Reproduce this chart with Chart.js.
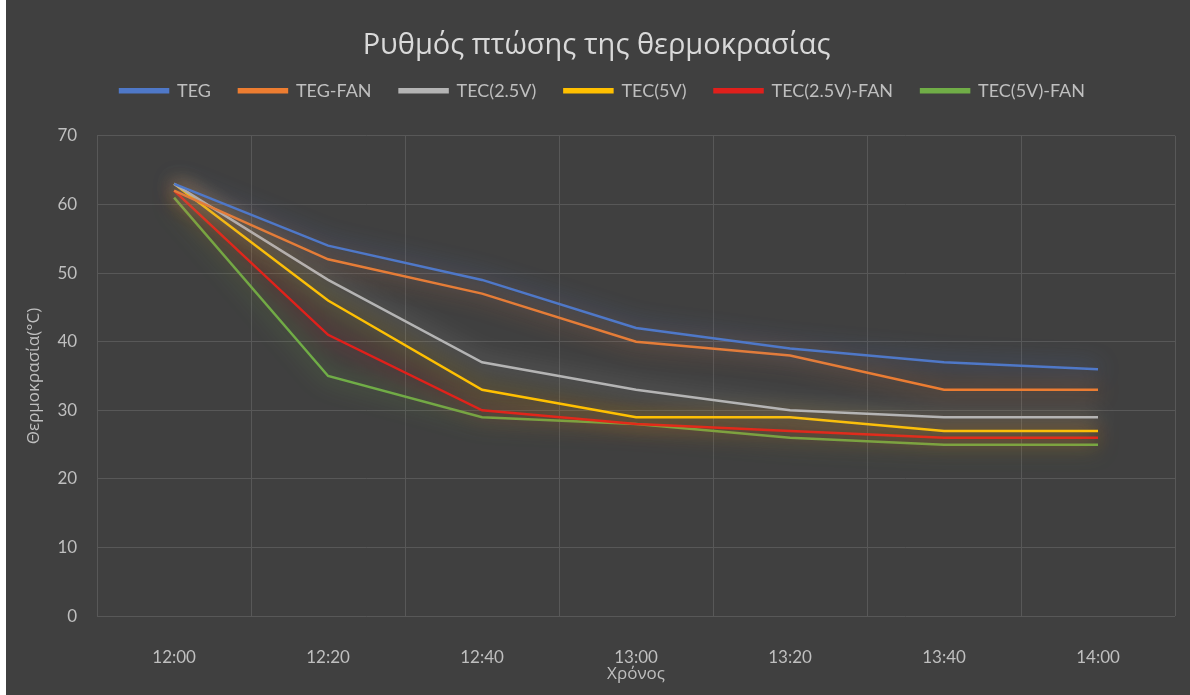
<!DOCTYPE html>
<html>
<head>
<meta charset="utf-8">
<script src="https://cdn.jsdelivr.net/npm/chart.js@4/dist/chart.umd.min.js"></script>
<style>
  html, body { margin: 0; padding: 0; background: #ffffff; }
  #wrap { position: absolute; left: 6px; top: 0; width: 1184px; height: 695px; background: #404040; }
</style>
</head>
<body>
<div id="wrap"><canvas id="temp"></canvas></div>
<script>
const times = ["12:00", "12:20", "12:40", "13:00", "13:20", "13:40", "14:00"];
const teg = [63, 54, 49, 42, 39, 37, 36];
const tegFan = [62, 52, 47, 40, 38, 33, 33];
const tec25 = [63, 49, 37, 33, 30, 29, 29];
const tec5 = [63, 46, 33, 29, 29, 27, 27];
const tec25Fan = [62, 41, 30, 28, 27, 26, 26];
const tec5Fan = [61, 35, 29, 28, 26, 25, 25];

const txt = "#bfbfbf";
const font = "Lato, 'Open Sans', sans-serif";

// soft glow behind every line
const glow = {
    id: "glow",
    beforeDatasetDraw(chart, args) {
        const ctx = chart.ctx;
        ctx.save();
        ctx.shadowColor = args.meta.dataset.options.borderColor;
        ctx.shadowBlur = 22;
    },
    afterDatasetDraw(chart) {
        chart.ctx.restore();
    }
};

// extra space between legend and plot, legend nudged a bit right
const legendGap = {
    id: "legendGap",
    beforeInit(chart) {
        const fit = chart.legend.fit;
        chart.legend.fit = function () {
            fit.bind(chart.legend)();
            this.height += 26;
        };
    },
    afterLayout(chart) {
        chart.legend.left += 6;
        chart.legend.right += 6;
    }
};

function line(label, color, data) {
    return {
        label: label,
        data: data,
        borderColor: color,
        backgroundColor: color,
        borderWidth: 2.5,
        pointRadius: 0,
        tension: 0,
        fill: false
    };
}

new Chart(document.getElementById("temp"), {
    type: "line",
    data: {
        labels: times,
        datasets: [
            line("TEG", "#4f78c8", teg),
            line("TEG-FAN", "#ed7d31", tegFan),
            line("TEC(2.5V)", "#b4b4b4", tec25),
            line("TEC(5V)", "#ffc000", tec5),
            line("TEC(2.5V)-FAN", "#e0201c", tec25Fan),
            line("TEC(5V)-FAN", "#70ad47", tec5Fan)
        ]
    },
    plugins: [glow, legendGap],
    options: {
        responsive: true,
        maintainAspectRatio: false,
        animation: false,
        layout: { padding: { left: 12, right: 15, top: 0, bottom: 8 } },
        plugins: {
            title: {
                display: true,
                text: "Ρυθμός πτώσης της θερμοκρασίας",
                color: "#d9d9d9",
                font: { family: "'Open Sans', sans-serif", size: 29, weight: "normal" },
                padding: { top: 28, bottom: -9 }
            },
            legend: {
                labels: {
                    color: txt,
                    font: { family: font, size: 18 },
                    boxWidth: 48,
                    boxHeight: 3,
                    padding: 28
                }
            },
            tooltip: { enabled: false }
        },
        scales: {
            x: {
                offset: true,
                grid: { offset: true, color: "#585858", drawTicks: false },
                border: { display: false },
                ticks: { color: txt, font: { family: font, size: 17 }, padding: 31 },
                title: { display: true, text: "Χρόνος", color: txt, font: { family: "'Open Sans', sans-serif", size: 17 }, padding: { top: -35, bottom: 3 } }
            },
            y: {
                min: 0,
                max: 70,
                ticks: { stepSize: 10, color: txt, font: { family: font, size: 17 }, padding: 20 },
                grid: { color: "#585858", drawTicks: false },
                border: { display: false },
                title: { display: true, text: "Θερμοκρασία(°C)", color: txt, font: { family: "'Open Sans', sans-serif", size: 17 }, padding: { top: 6, bottom: -7 } }
            }
        }
    }
});
</script>
</body>
</html>
